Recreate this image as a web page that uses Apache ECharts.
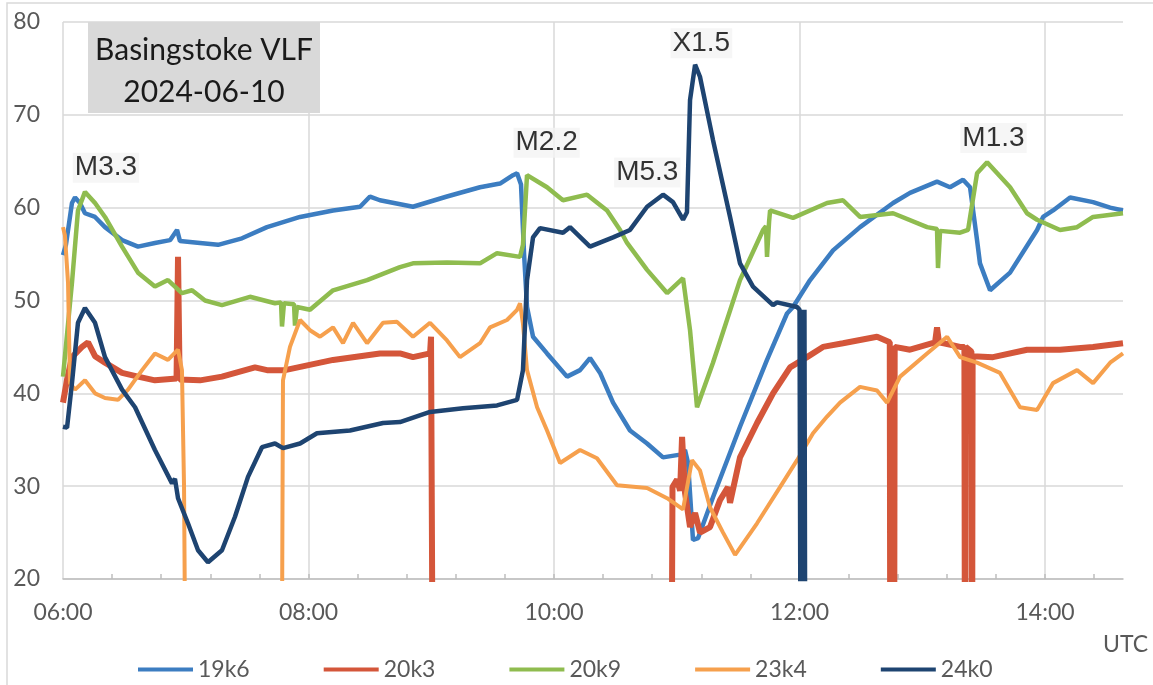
<!DOCTYPE html>
<html><head><meta charset="utf-8">
<script src="https://cdn.jsdelivr.net/npm/echarts@6/dist/echarts.min.js"></script>
<style>html,body{margin:0;padding:0;background:#fff}#c{width:1153px;height:685px}</style>
</head><body><div id="c"></div>
<script>
// time in decimal hours UTC, value in dB
const seriesNames = ['19k6', '20k3', '20k9', '23k4', '24k0'];
const seriesColors = ['#3C7DC1', '#D4563A', '#8FBC4F', '#F6A04D', '#1E4471'];

const s19k6 = [[6.00,54.9],[6.024,56],[6.073,60.5],[6.098,61.1],[6.138,60.5],[6.179,59.4],[6.261,59.0],[6.342,57.9],[6.481,56.5],[6.611,55.8],[6.749,56.2],[6.872,56.5],[6.929,57.6],[6.953,56.4],[7.116,56.2],[7.263,56.0],[7.458,56.7],[7.662,57.9],[7.931,59.0],[8.200,59.7],[8.420,60.1],[8.501,61.2],[8.582,60.8],[8.851,60.1],[9.128,61.2],[9.397,62.2],[9.560,62.6],[9.666,63.5],[9.699,63.7],[9.731,62.5],[9.756,55],[9.780,49.3],[9.829,46.1],[9.943,44.3],[10.106,41.8],[10.212,42.5],[10.293,43.8],[10.375,42.2],[10.481,39.0],[10.619,36.0],[10.758,34.6],[10.888,33.1],[11.027,33.4],[11.067,33.9],[11.092,32.5],[11.132,24.2],[11.173,24.4],[11.295,28.8],[11.515,36.4],[11.735,43.6],[11.898,48.6],[11.947,49.3],[12.086,52.2],[12.273,55.4],[12.493,57.9],[12.762,60.5],[12.900,61.6],[13.120,62.8],[13.226,62.2],[13.332,63.0],[13.389,62.2],[13.421,59],[13.446,56.5],[13.470,54.0],[13.552,51.1],[13.715,53.0],[13.935,57.6],[13.984,59.0],[14.065,59.7],[14.204,61.1],[14.391,60.6],[14.530,60.0],[14.635,59.7]];

const s20k3 = [[6.00,39.0],[6.033,41.5],[6.073,43.9],[6.155,45.0],[6.204,45.5],[6.261,44.0],[6.342,43.3],[6.481,42.2],[6.611,41.8],[6.749,41.4],[6.925,41.6],[6.937,54.7],[6.950,41.5],[7.116,41.4],[7.295,41.8],[7.564,42.8],[7.662,42.5],[7.809,42.5],[8.200,43.6],[8.582,44.3],[8.745,44.3],[8.851,43.9],[8.990,44.3],[8.998,46.1],[9.014,0],[10.955,0],[10.965,29.9],[11.002,30.7],[11.027,29.5],[11.043,35.3],[11.067,29.3],[11.108,25.6],[11.149,27.1],[11.189,25.0],[11.271,25.6],[11.352,28.5],[11.417,29.9],[11.434,28.2],[11.515,33.1],[11.654,36.8],[11.784,40.0],[11.923,42.8],[12.061,43.9],[12.191,45.0],[12.354,45.4],[12.631,46.1],[12.735,45.5],[12.740,0],[12.770,0],[12.775,45.0],[12.900,44.7],[13.104,45.5],[13.120,47.1],[13.136,45.5],[13.308,45.0],[13.343,45.0],[13.348,0],[13.353,45.0],[13.400,44.5],[13.405,0],[13.410,44.0],[13.576,43.9],[13.853,44.7],[14.122,44.7],[14.391,45.0],[14.635,45.4]];

const s20k9 = [[6.00,41.8],[6.073,51.9],[6.122,59.7],[6.179,61.7],[6.261,60.5],[6.342,59.0],[6.481,55.8],[6.611,53.0],[6.749,51.5],[6.855,52.2],[6.969,50.8],[7.051,51.1],[7.157,50.0],[7.295,49.5],[7.523,50.4],[7.727,49.7],[7.776,49.8],[7.784,47.2],[7.800,49.7],[7.882,49.6],[7.890,47.3],[7.906,49.3],[8.012,49.0],[8.200,51.1],[8.477,52.2],[8.745,53.6],[8.851,54.0],[9.128,54.1],[9.397,54.0],[9.536,55.1],[9.723,54.7],[9.747,56],[9.780,63.5],[9.943,62.2],[10.073,60.8],[10.269,61.4],[10.432,59.7],[10.538,57.6],[10.595,56.2],[10.758,53.3],[10.921,50.8],[11.051,52.4],[11.108,46.8],[11.165,38.5],[11.295,43.3],[11.515,52.2],[11.703,57.6],[11.727,58],[11.735,54.7],[11.752,58.5],[11.760,59.7],[11.947,58.9],[12.224,60.5],[12.354,60.8],[12.493,59.0],[12.762,59.4],[13.039,57.9],[13.120,57.7],[13.128,53.5],[13.145,57.5],[13.308,57.3],[13.373,57.6],[13.446,63.7],[13.528,64.9],[13.715,62.2],[13.853,59.4],[13.935,58.7],[14.122,57.6],[14.261,57.9],[14.391,59.0],[14.635,59.4]];

const s23k4 = [[6.00,57.9],[6.016,57],[6.041,51.9],[6.057,41.1],[6.098,40.4],[6.179,41.4],[6.261,40.0],[6.342,39.5],[6.448,39.3],[6.530,40.4],[6.644,42.5],[6.749,44.3],[6.855,43.6],[6.937,44.7],[6.969,42.5],[6.986,30],[7.002,0],[7.780,0],[7.792,41.4],[7.849,45.0],[7.931,47.9],[8.012,46.8],[8.094,46.1],[8.200,47.1],[8.281,45.4],[8.363,47.6],[8.477,45.4],[8.607,47.6],[8.721,47.7],[8.851,46.1],[8.990,47.6],[9.128,45.7],[9.234,43.9],[9.397,45.4],[9.479,47.1],[9.617,47.9],[9.699,49.0],[9.723,49.7],[9.747,47.5],[9.780,42.5],[9.862,38.5],[9.943,36.0],[10.049,32.5],[10.212,33.9],[10.350,33.0],[10.513,30.1],[10.758,29.8],[10.921,28.7],[11.051,27.5],[11.124,32.8],[11.189,31.7],[11.271,27.7],[11.377,25.0],[11.475,22.6],[11.654,26.0],[11.841,29.9],[11.980,32.8],[12.110,35.7],[12.224,37.5],[12.330,39.0],[12.493,40.7],[12.631,40.3],[12.713,39.0],[12.819,41.8],[13.039,44.3],[13.202,46.1],[13.308,43.9],[13.446,43.3],[13.633,42.2],[13.796,38.5],[13.935,38.2],[14.065,41.1],[14.261,42.5],[14.391,41.1],[14.530,43.3],[14.635,44.3]];

const s24k0 = [[6.00,36.4],[6.033,36.3],[6.073,41.1],[6.122,47.6],[6.179,49.2],[6.261,47.6],[6.342,43.9],[6.481,40.4],[6.587,38.5],[6.749,33.9],[6.888,30.3],[6.912,30.8],[6.937,28.7],[7.018,26.0],[7.100,23.1],[7.181,21.8],[7.295,23.1],[7.401,26.7],[7.507,31.0],[7.621,34.2],[7.727,34.6],[7.792,34.1],[7.931,34.6],[8.069,35.7],[8.338,36.0],[8.607,36.8],[8.745,36.9],[8.990,38.0],[9.259,38.4],[9.536,38.7],[9.699,39.3],[9.747,42.5],[9.780,52.2],[9.829,56.8],[9.886,57.8],[10.073,57.3],[10.130,57.9],[10.293,55.8],[10.481,56.8],[10.619,57.6],[10.758,60.1],[10.888,61.4],[10.969,60.6],[11.051,58.7],[11.083,59.5],[11.108,71.6],[11.149,75.4],[11.189,74.1],[11.295,67.3],[11.434,59.0],[11.515,54.0],[11.621,51.5],[11.784,49.5],[11.817,49.8],[11.980,49.3],[12.000,49.0],[12.010,0],[12.020,49.0],[12.030,0],[12.040,49.0],[12.048,0]];

const seriesData = [s19k6, s20k3, s20k9, s23k4, s24k0];
const seriesWidths = [4.5, 6, 4.5, 4, 4.5];

const annotations = [['M3.3', 6.35, 64.3], ['M2.2', 9.94, 67.0], ['M5.3', 10.76, 63.8], ['X1.5', 11.20, 77.7], ['M1.3', 13.58, 67.5]];

const xTickLabels = {6: '06:00', 8: '08:00', 10: '10:00', 12: '12:00', 14: '14:00'};
const yTickLabels = ['20', '30', '40', '50', '60', '70', '80'];
const titleLines = ['Basingstoke VLF', '2024-06-10'];
const xUnit = 'UTC';

const xMin = 6, xMax = 14.635;
const minorTicks = [];
for (let v = xMin + 0.4; v < xMax; v += 0.4) minorTicks.push(Math.round(v * 100) / 100);

const chart = echarts.init(document.getElementById('c'), null, {renderer: 'canvas'});
const labelFont = 'Lato';
const option = {
  animation: false,
  backgroundColor: '#ffffff',
  grid: {left: 63, right: 30, top: 22, bottom: 106, containLabel: false},
  xAxis: [{
    type: 'value', min: xMin, max: xMax, interval: 2,
    axisLine: {show: true, lineStyle: {color: '#BFBFBF', width: 1.5}},
    axisTick: {show: false},
    axisLabel: {margin: 22, fontSize: 23, fontFamily: labelFont, color: '#595959', showMaxLabel: false,
      formatter: v => xTickLabels[v] !== undefined ? xTickLabels[v] : ''},
    splitLine: {show: true, showMaxLine: false, lineStyle: {color: '#D9D9D9', width: 1.5}}
  }, {
    type: 'value', min: xMin, max: xMax, position: 'bottom', gridIndex: 0,
    axisLine: {show: false}, axisLabel: {show: false}, splitLine: {show: false},
    axisTick: {show: true, inside: true, length: 5, customValues: minorTicks, lineStyle: {color: '#BFBFBF', width: 1.5}}
  }],
  yAxis: {
    type: 'value', min: 20, max: 80, interval: 10,
    axisLine: {show: false}, axisTick: {show: false},
    axisLabel: {margin: 23, fontSize: 23, fontFamily: labelFont, color: '#595959',
      formatter: v => yTickLabels.includes(String(v)) ? String(v) : ''},
    splitLine: {show: true, lineStyle: {color: '#D9D9D9', width: 1.5}}
  },
  legend: {
    data: seriesNames, left: 133, top: 653, itemGap: 74, itemWidth: 55, itemHeight: 4, icon: 'rect',
    textStyle: {fontSize: 23, fontFamily: labelFont, color: '#595959'}
  },
  series: seriesNames.map((n, i) => ({
    name: n, type: 'line', xAxisIndex: 0, data: seriesData[i], showSymbol: false, symbol: 'none',
    color: seriesColors[i], lineStyle: {width: seriesWidths[i], color: seriesColors[i]}, clip: true, z: 2 + i
  })).concat([{
    name: 'annotations', type: 'scatter', xAxisIndex: 0, symbolSize: 2, z: 20,
    itemStyle: {color: 'rgba(0,0,0,0)'},
    data: annotations.map(a => ({name: a[0], value: [a[1], a[2]]})),
    label: {show: true, position: 'inside', formatter: p => p.name, fontFamily: 'Liberation Sans',
      fontSize: 28, color: '#000000', backgroundColor: '#F4F4F4', padding: [1, 2]},
    labelLayout: {hideOverlap: false}
  }]),
  graphic: [
    {type: 'rect', shape: {x: 7, y: 3, width: 1160, height: 700}, style: {fill: 'none', stroke: '#D9D9D9', lineWidth: 1.5}, z: 0, silent: true},
    {type: 'rect', shape: {x: 88, y: 22, width: 232, height: 91}, style: {fill: '#D9D9D9'}, z: 30},
    {type: 'text', x: 204, y: 50, z: 31, style: {text: titleLines[0], font: '30px Lato', fill: '#1a1a1a', align: 'center', verticalAlign: 'middle', textAlign: 'center', textVerticalAlign: 'middle'}},
    {type: 'text', x: 204, y: 92, z: 31, style: {text: titleLines[1], font: '30px Lato', fill: '#1a1a1a', align: 'center', verticalAlign: 'middle', textAlign: 'center', textVerticalAlign: 'middle'}},
    {type: 'text', x: 1103, y: 645, z: 31, style: {text: xUnit, font: '23px Lato', fill: '#595959', align: 'left', verticalAlign: 'middle', textAlign: 'left', textVerticalAlign: 'middle'}}
  ]
};
chart.setOption(option);
</script></body></html>
